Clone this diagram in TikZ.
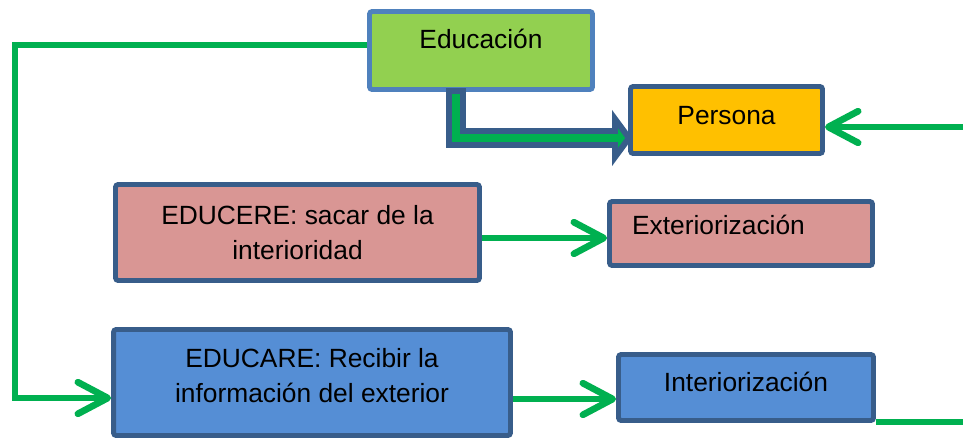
\documentclass[tikz,border=0pt]{standalone}
\usepackage{fontspec}
\setmainfont{Liberation Sans}
\usetikzlibrary{arrows.meta}
\definecolor{boxline}{RGB}{56,93,138}
\definecolor{lightline}{RGB}{79,129,189}
\definecolor{leafgreen}{RGB}{146,208,80}
\definecolor{amber}{RGB}{255,192,0}
\definecolor{rose}{RGB}{217,150,148}
\definecolor{sky}{RGB}{85,142,213}
\definecolor{linkgreen}{RGB}{0,176,80}
\tikzset{>={Straight Barb[length=17pt,width=18pt,round]}}
\tikzset{box/.style={draw=boxline, line width=2.8pt, rounded corners=1.5pt,
  font=\fontsize{15}{20}\selectfont, align=center},
  link/.style={draw=linkgreen, line width=3.8pt}}

\begin{document}
\begin{tikzpicture}[x=0.02cm, y=-0.02cm]
    \useasboundingbox (0,0) rectangle (963,440);
    \node[box, draw=lightline, fill=leafgreen, minimum width=4.46cm, minimum height=1.56cm, text height=11pt, text depth=13.3pt](educacion) at (481,50.5) {Educación};
    \node[box, fill=amber, minimum width=3.84cm, minimum height=1.34cm, text height=11pt, text depth=5.6pt](persona) at (726.5,120) {Persona};
    \node[box, fill=rose, minimum width=7.28cm, minimum height=1.92cm](educere) at (297.5,232.5) {EDUCERE: sacar de la\\interioridad};
    \node[box, fill=rose, minimum width=5.26cm, minimum height=1.28cm, text width=4.36cm, align=left, text height=11pt, text depth=9.9pt](exterior) at (741,233.5) {Exteriorización};
    \node[box, fill=sky, minimum width=7.94cm, minimum height=2.12cm](educare) at (312,382.5) {EDUCARE: Recibir la\\información del exterior\rule[-8pt]{0pt}{1pt}};
    \node[box, fill=sky, minimum width=5.10cm, minimum height=1.32cm, text height=11pt, text depth=5.9pt](interior) at (746,387.5) {Interiorización};
    \coordinate (bendtop) at (15,45);
    \coordinate (bendbot) at (15,398);
    \coordinate (outlink) at (0,238);
    \coordinate (inlink) at (0,399);
    \coordinate (rightin) at (963,127);
    \coordinate (rightout) at (963,422);
    \draw[link, ->](educacion.west |- bendtop)--(bendtop)--(bendbot)--(educare.west |- bendbot);
    \draw[link, ->](educere.east |- outlink)--(exterior.west |- outlink);
    \draw[link, ->](educare.east |- inlink)--(interior.west |- inlink);
    \draw[link, ->](rightin)--(persona.east |- rightin);
    \draw[link](interior.east |- rightout)--(rightout);
    \draw[boxline, fill=linkgreen, line width=3.4pt, line join=miter](449,91)--(463,91)--(463,131)--(615,131)--(615,119)--(629,138)--(615,157)--(615,145)--(449,145)--cycle;
\end{tikzpicture}
\end{document}
